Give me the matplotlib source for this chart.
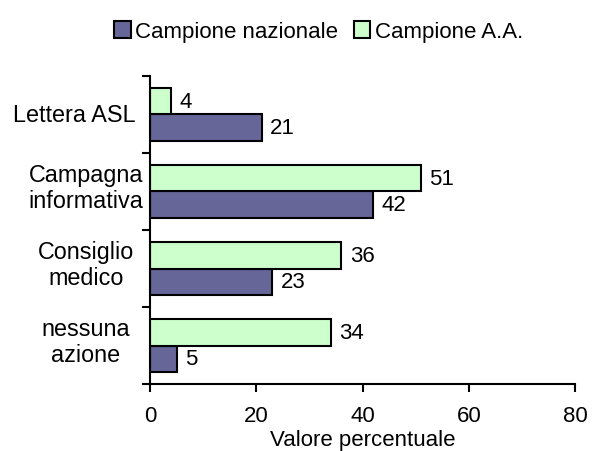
import numpy as np
import matplotlib.pyplot as plt
from matplotlib.transforms import offset_copy

plt.rcParams['font.family'] = ['Liberation Sans', 'DejaVu Sans']

categories = ['Lettera ASL', 'Campagna\ninformativa', 'Consiglio\nmedico', 'nessuna\nazione']
nazionale = [21, 42, 23, 5]
aa = [4, 51, 36, 34]
series_names = ['Campione nazionale', 'Campione A.A.']
colors = ['#666699', '#ccffcc']
fs = 16

fig = plt.figure(figsize=(5.93, 4.52), dpi=100)
ax = fig.add_axes([0.253, 0.148, 0.717, 0.682])

n = len(categories)
y = np.arange(n)
h = 0.34

b_naz = ax.barh(y + h / 2, nazionale, height=h, color=colors[0],
                edgecolor='black', linewidth=1.5, label=series_names[0])
b_aa = ax.barh(y - h / 2, aa, height=h, color=colors[1],
               edgecolor='black', linewidth=1.5, label=series_names[1])

for bars in (b_naz, b_aa):
    for rect in bars:
        w = rect.get_width()
        ax.annotate(f'{w:g}', (w, rect.get_y() + rect.get_height() / 2),
                    xytext=(6, 0), textcoords='offset points',
                    va='center', ha='left', fontsize=fs)

ax.set_xlim(0, 80)
ax.set_ylim(n - 0.5, -0.5)
ax.set_xticks([0, 20, 40, 60, 80])
ax.tick_params(axis='x', labelsize=fs, length=6, width=1.5, pad=9)

# tick marks only at the category boundaries
ax.set_yticks(np.arange(n + 1) - 0.5)
ax.set_yticklabels([])
ax.tick_params(axis='y', length=6, width=1.5)

# category names, centred, but kept clear of the axis when they are wide
trans = ax.get_yaxis_transform()
for yi, name in zip(y, categories):
    if '\n' in name:
        t = offset_copy(trans, fig=fig, x=-64, y=4, units='dots')
        ax.text(0, yi, name, transform=t, ha='center', va='center',
                fontsize=fs + 0.8, linespacing=1.2, multialignment='center')
    else:
        t = offset_copy(trans, fig=fig, x=-14, y=0, units='dots')
        ax.text(0, yi, name, transform=t, ha='right', va='center',
                fontsize=fs + 0.8)

for side in ('top', 'right'):
    ax.spines[side].set_visible(False)
for side in ('left', 'bottom'):
    ax.spines[side].set_linewidth(1.5)

ax.set_xlabel('Valore percentuale', fontsize=fs, labelpad=2)

fig.legend(handles=[b_naz, b_aa], loc='upper center', bbox_to_anchor=(0.537, 0.995),
           ncol=2, frameon=False, fontsize=fs, handlelength=0.75, handleheight=0.75,
           handletextpad=0.2, columnspacing=0.7)

fig.savefig('out.png', dpi=100)
